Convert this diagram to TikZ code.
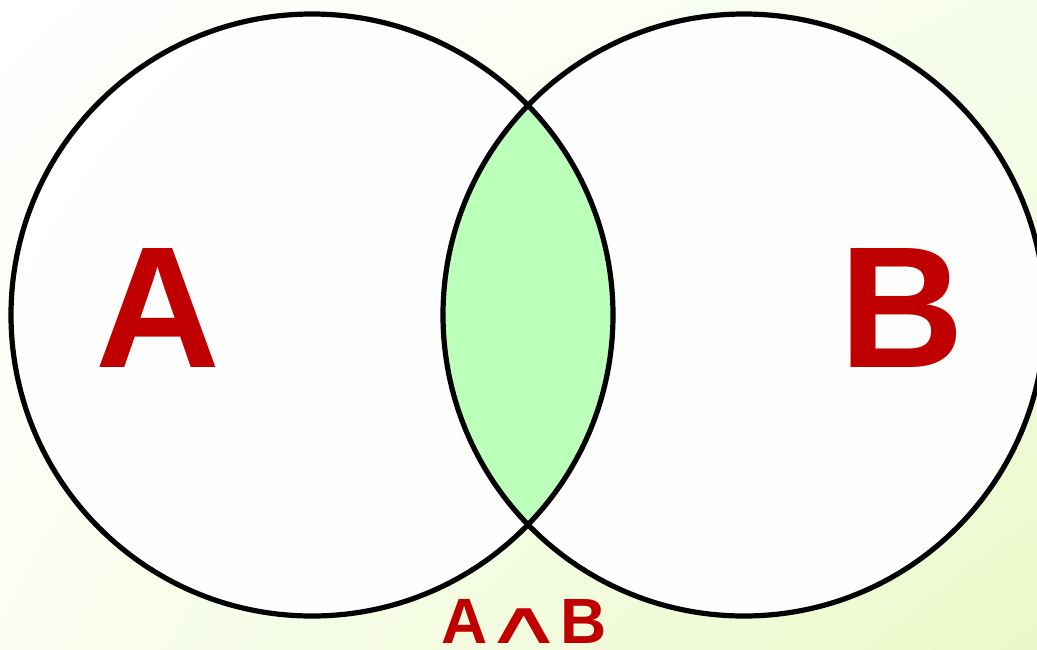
\documentclass[tikz,border=0pt]{standalone}
\usepackage{fontspec}
\usepackage{graphicx}
\usetikzlibrary{shadings}
\setmainfont{Liberation Sans}
\newfontfamily\symfont{DejaVu Sans}
\definecolor{lblred}{HTML}{C00000}
\definecolor{lensgreen}{HTML}{BBFFBB}
\definecolor{bgBR}{HTML}{EBF9C8}
\definecolor{bgTR}{HTML}{F7FDEC}
\definecolor{bgBL}{HTML}{FAFEF2}
\begin{document}
\begin{tikzpicture}[x=1pt,y=-1pt,
  ring/.style={draw=black,line width=5.2pt},
  biglabel/.style={text=lblred,font=\fontsize{173}{173}\selectfont\bfseries,inner sep=0pt,anchor=base},
  smalllabel/.style={text=lblred,font=\fontsize{64}{64}\selectfont\bfseries,inner sep=0pt,anchor=base}]
\useasboundingbox (0,0) rectangle (1037,649);
\clip (0,0) rectangle (1037,649);
\shade[upper left=white,upper right=bgTR,lower left=bgBL,lower right=bgBR] (0,0) rectangle (1037,649);
\coordinate (ca) at (312,315);
\coordinate (cb) at (744,315);
\fill[white,fill opacity=0.95] (ca) circle[radius=301pt];
\fill[white,fill opacity=0.95] (cb) circle[radius=301pt];
\begin{scope}
  \clip (ca) circle[radius=301pt];
  \fill[lensgreen] (cb) circle[radius=301pt];
\end{scope}
\draw[ring] (ca) circle[radius=301pt];
\draw[ring] (cb) circle[radius=301pt];
\node[biglabel] (la) at (158,367) {A};
\node[biglabel] (lb) at (902,367) {B};
\node[smalllabel] (lab) at (524,643) {A\hspace{-4pt}\scalebox{1.85}[1]{\symfont\mdseries\fontsize{60}{60}\selectfont ∧}\hspace{-4pt}B};
\end{tikzpicture}
\end{document}
